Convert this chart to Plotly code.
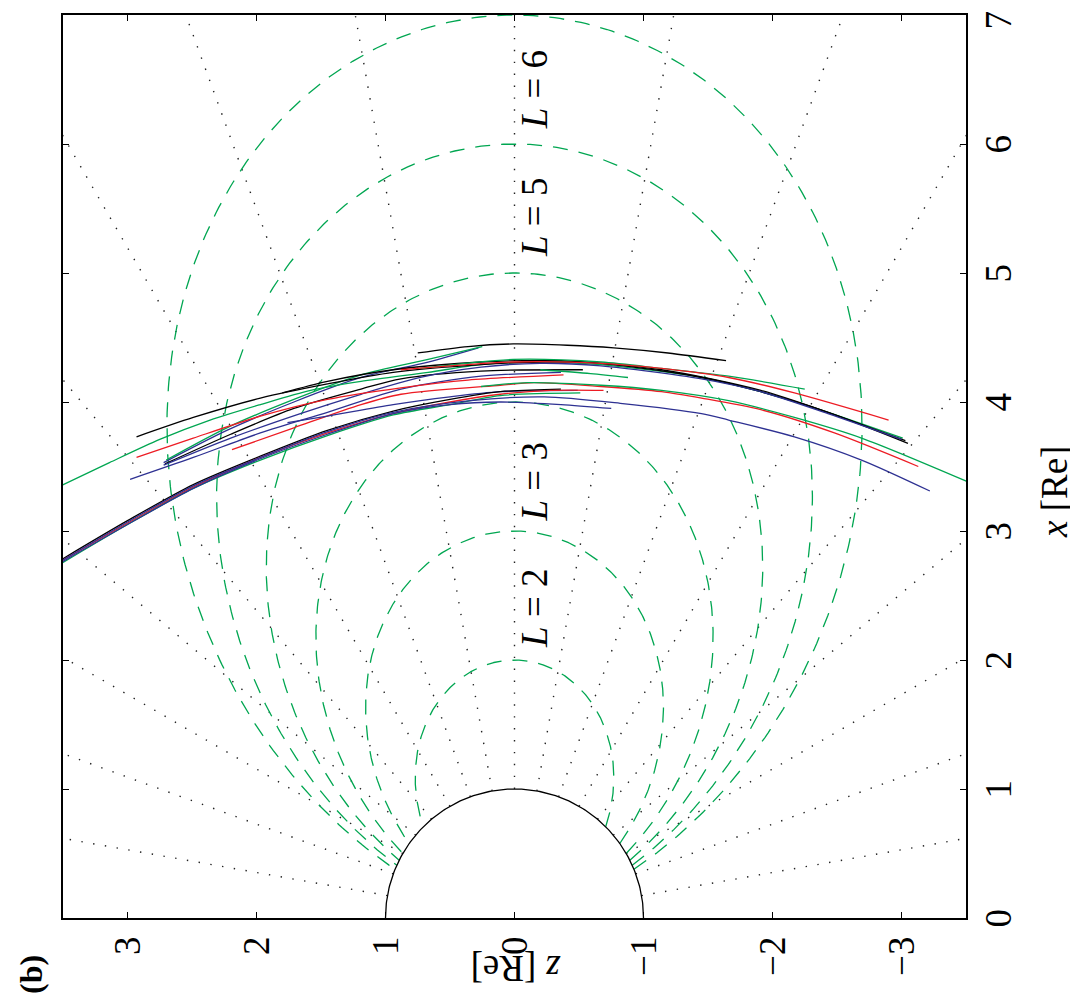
import numpy as np
import plotly.graph_objects as go

# ---------------- guide geometry ----------------
L_shells = [2, 3, 4, 5, 6, 7]                      # dashed dipole field lines
colatitudes = [10, 20, 30, 40, 50, 60, 70, 80, 90,
               100, 110, 120, 130, 140, 150, 160, 170]  # dotted radial lines (deg)
label_L = [2, 3, 5, 6]
label_x = [2.40, 3.38, 5.43, 6.42]
label_z = -0.155

z_ticks = [-3, -2, -1, 0, 1, 2, 3]
z_ticktext = ["\u22123", "\u22122", "\u22121", "0", "1", "2", "3"]
x_ticks = [0, 1, 2, 3, 4, 5, 6, 7]
x_ticktext = ["0", "1", "2", "3", "4", "5", "6", "7"]

# ---------------- measured traces (z [Re], x [Re]) ----------------
K_top_z = [0.75, 0.36, 0.01, -0.41, -0.77, -1.19, -1.64]
K_top_x = [4.38, 4.43, 4.45, 4.44, 4.42, 4.38, 4.32]

B_T2_z = [2.72, 2.23, 1.71, 1.19, 0.67, 0.28]
B_T2_x = [3.53, 3.78, 4.00, 4.19, 4.31, 4.42]

G_T2_z = [2.70, 2.23, 1.71, 1.19, 0.67, 0.25]
G_T2_x = [3.55, 3.80, 4.02, 4.21, 4.33, 4.43]

K_V_z = [2.71, 2.20, 1.71, 1.19, 0.88, 0.26, -0.53]
K_V_x = [3.52, 3.75, 3.95, 4.10, 4.18, 4.24, 4.25]

G_UG_z = [3.56, 3.14, 2.75, 2.36, 1.97, 1.58, 1.19, 0.67, 0.26, -0.20, -0.67, -1.45, -1.91, -2.43, -3.01]
G_UG_x = [3.33, 3.53, 3.71, 3.86, 3.98, 4.09, 4.16, 4.23, 4.29, 4.31, 4.29, 4.19, 4.08, 3.92, 3.72]

K_UB1_z = [2.93, 2.49, 1.97, 1.45, 0.94, 0.26, -0.20, -0.67, -1.45, -1.91, -2.43, -3.05]
K_UB1_x = [3.73, 3.88, 4.03, 4.14, 4.23, 4.29, 4.31, 4.30, 4.19, 4.08, 3.92, 3.68]

K_UB2_z = [1.80, 1.45, 0.94, 0.26, -0.36, -1.14, -1.91, -2.43, -3.03]
K_UB2_x = [4.07, 4.16, 4.25, 4.31, 4.32, 4.25, 4.09, 3.92, 3.70]

B_UB_z = [2.72, 2.20, 1.66, 1.19, 0.73, 0.26, -0.20, -0.67, -1.45, -1.91, -2.43, -3.00]
B_UB_x = [3.51, 3.72, 3.91, 4.06, 4.19, 4.27, 4.30, 4.28, 4.18, 4.08, 3.91, 3.71]

B_B1_z = [2.98, 2.49, 1.97, 1.45, 0.88, 0.26, -0.36]
B_B1_x = [3.40, 3.57, 3.76, 3.92, 4.10, 4.20, 4.23]

R_R1_z = [2.93, 2.49, 1.97, 1.45, 0.88, 0.36, -0.38]
R_R1_x = [3.57, 3.72, 3.89, 4.02, 4.11, 4.17, 4.21]

R_R2_z = [2.19, 1.71, 1.19, 0.88, 0.11, -0.15, -0.67, -1.14, -1.45, -1.91, -2.48, -3.13]
R_R2_x = [3.63, 3.80, 3.98, 4.06, 4.13, 4.15, 4.12, 4.08, 4.03, 3.94, 3.76, 3.50]

B_B2_z = [1.76, 1.45, 0.94, 0.50, 0.11, -0.49]
B_B2_x = [3.84, 3.89, 3.98, 4.04, 4.08, 4.09]

G_LG_z = [0.26, -0.10, -0.67, -1.14, -1.66, -2.17, -2.69, -3.54]
G_LG_x = [4.12, 4.15, 4.13, 4.09, 4.01, 3.88, 3.72, 3.37]

G_short_z = [-0.20, -0.59, -0.88]
G_short_x = [4.25, 4.22, 4.19]

G_UGR_z = [0.73, 0.01, -0.67, -1.14, -1.66, -2.25]
G_UGR_x = [4.26, 4.33, 4.31, 4.26, 4.20, 4.10]

R_UR_z = [0.88, 0.01, -0.67, -1.14, -1.66, -2.17, -2.90]
R_UR_x = [4.25, 4.31, 4.30, 4.26, 4.19, 4.07, 3.86]

K_A_z = [3.56, 3.00, 2.49, 1.97, 1.45, 0.94, 0.50, 0.11, -0.36]
K_A_x = [2.75, 3.08, 3.36, 3.58, 3.78, 3.93, 4.02, 4.08, 4.10]

R_A_z = [3.56, 3.00, 2.49, 1.97, 1.45, 0.94, 0.50, 0.11, -0.28, -0.69]
R_A_x = [2.74, 3.06, 3.34, 3.57, 3.76, 3.91, 4.00, 4.06, 4.09, 4.09]

G_A_z = [3.56, 3.00, 2.49, 1.97, 1.45, 0.94, 0.50, 0.11, -0.51]
G_A_x = [2.72, 3.05, 3.33, 3.55, 3.74, 3.90, 3.98, 4.05, 4.07]

B_A_z = [3.56, 3.00, 2.49, 1.97, 1.45, 0.94, 0.50, 0.11, -0.36, -0.75]
B_A_x = [2.73, 3.05, 3.33, 3.56, 3.75, 3.91, 3.98, 4.00, 3.98, 3.95]

B_LB_z = [3.56, 3.00, 2.49, 1.97, 1.45, 0.94, 0.34, -0.23, -0.82, -1.45, -1.66, -2.17, -2.69, -3.22]
B_LB_x = [2.74, 3.07, 3.35, 3.57, 3.77, 3.92, 4.01, 4.04, 3.99, 3.91, 3.86, 3.73, 3.55, 3.31]

GREEN = "#00a651"
RED = "#ed1c24"
BLUE = "#2e3192"
BLACK = "#000000"

traces = [
    (K_top_z, K_top_x, BLACK), (B_T2_z, B_T2_x, BLUE), (G_T2_z, G_T2_x, GREEN),
    (K_V_z, K_V_x, BLACK), (G_UG_z, G_UG_x, GREEN), (K_UB1_z, K_UB1_x, BLACK),
    (K_UB2_z, K_UB2_x, BLACK), (B_UB_z, B_UB_x, BLUE), (B_B1_z, B_B1_x, BLUE),
    (R_R1_z, R_R1_x, RED), (R_R2_z, R_R2_x, RED), (B_B2_z, B_B2_x, BLUE),
    (G_LG_z, G_LG_x, GREEN), (G_short_z, G_short_x, GREEN), (G_UGR_z, G_UGR_x, GREEN),
    (R_UR_z, R_UR_x, RED), (K_A_z, K_A_x, BLACK), (R_A_z, R_A_x, RED),
    (G_A_z, G_A_x, GREEN), (B_A_z, B_A_x, BLUE), (B_LB_z, B_LB_x, BLUE),
]

fig = go.Figure()

# dotted radial lines (from Earth's surface outward)
r = np.linspace(1.0, 10.0, 60)
for c in colatitudes:
    th = np.deg2rad(c)
    fig.add_trace(go.Scatter(x=r * np.cos(th), y=r * np.sin(th), mode="lines",
                             line=dict(color="#222222", width=1.4, dash="1.4px,10.5px"),
                             hoverinfo="skip"))

# dashed dipole field lines r = L cos^2(lat)
for L in L_shells:
    lam0 = np.arccos(np.sqrt(1.0 / L))
    lam = np.linspace(-lam0, lam0, 400)
    rr = L * np.cos(lam) ** 2
    fig.add_trace(go.Scatter(x=rr * np.sin(lam), y=rr * np.cos(lam), mode="lines",
                             line=dict(color=GREEN, width=1.3, dash="15px,11px"),
                             hoverinfo="skip"))

# measured traces
for zz, xx, col in traces:
    fig.add_trace(go.Scatter(x=zz, y=xx, mode="lines",
                             line=dict(color=col, width=1.3, shape="spline", smoothing=0.8)))

# Earth
t = np.linspace(0, np.pi, 200)
fig.add_trace(go.Scatter(x=np.cos(t), y=np.sin(t), mode="lines",
                         line=dict(color=BLACK, width=1.3), hoverinfo="skip"))

# page body has an 8px default margin; plot area targeted at page x 63..966, y 15..918
OFF = 8
PL, PT, PW = 63 - OFF, 15 - OFF, 903


def px(xp):
    return (xp - 63) / PW


def py(yp):
    return (918 - yp) / PW


serif = "Liberation Serif, Times New Roman, serif"
ann = []
for L, lx in zip(label_L, label_x):
    ann.append(dict(x=label_z, y=lx, xref="x", yref="y", text=f"<i>L</i> = {L}",
                    textangle=-90, showarrow=False, xanchor="center", yanchor="middle",
                    font=dict(family=serif, size=37, color=BLACK)))
# right-hand x tick labels, centred on their ticks (top one nudged inside the page)
for v, s in zip(x_ticks, x_ticktext):
    ann.append(dict(x=px(997.5), y=v, xref="paper", yref="y", text=s,
                    textangle=-90, showarrow=False, xanchor="center", yanchor="middle",
                    yshift=-5 if v == x_ticks[-1] else 0, borderpad=0,
                    font=dict(family=serif, size=37, color=BLACK)))
ann.append(dict(x=px(1054), y=py(492), xref="paper", yref="paper",
                text="<i>x</i> [Re]", textangle=-90, showarrow=False,
                xanchor="center", yanchor="middle",
                font=dict(family=serif, size=37, color=BLACK)))
ann.append(dict(x=px(516.5), y=py(969), xref="paper", yref="paper",
                text="<i>z</i> [Re]", textangle=180, showarrow=False,
                xanchor="center", yanchor="middle",
                font=dict(family=serif, size=37, color=BLACK)))
ann.append(dict(x=px(31), y=py(975), xref="paper", yref="paper",
                text="<b>(b)</b>", textangle=-90, showarrow=False,
                xanchor="center", yanchor="middle",
                font=dict(family=serif, size=32, color=BLACK)))

axis_common = dict(showgrid=False, zeroline=False, showline=True, linecolor=BLACK,
                   linewidth=1.5, mirror="ticks", ticks="inside", ticklen=6,
                   tickcolor=BLACK, tickangle=-90, automargin=False,
                   ticklabeloverflow="allow",
                   tickfont=dict(family=serif, size=37, color=BLACK))

fig.update_layout(
    width=1070, height=995,
    margin=dict(l=PL, r=1070 - PL - PW, t=PT, b=995 - PT - PW, pad=0),
    paper_bgcolor="white", plot_bgcolor="white",
    showlegend=False,
    xaxis=dict(range=[3.5, -3.5], tickvals=z_ticks, ticktext=z_ticktext,
               ticklabelstandoff=2, **axis_common),
    yaxis=dict(range=[0, 7], tickvals=x_ticks, showticklabels=False, side="right",
               **axis_common),
    annotations=ann,
)

fig.write_html("out.html")
